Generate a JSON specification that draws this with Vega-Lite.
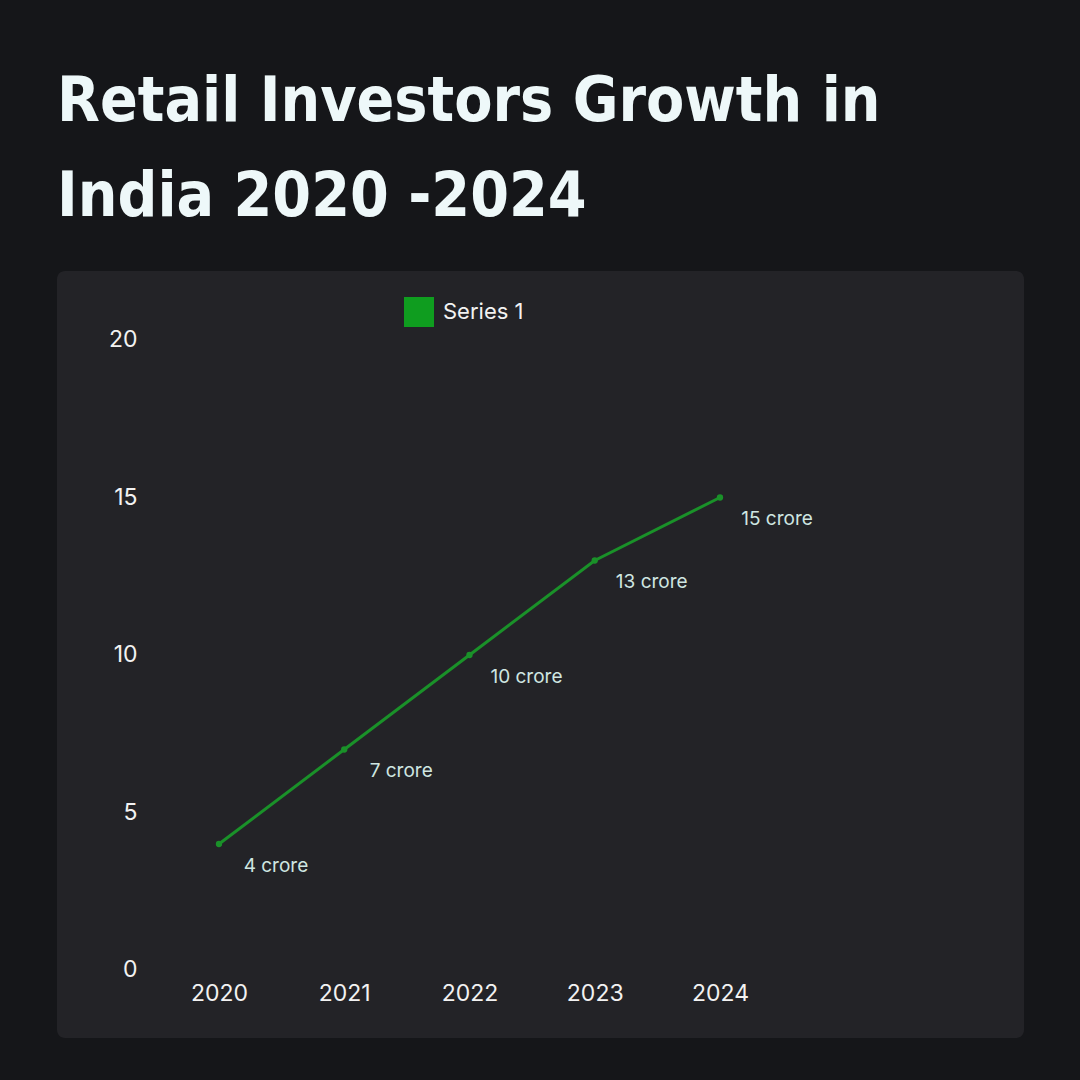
{
  "$schema": "https://vega.github.io/schema/vega-lite/v6.json",
  "width": 967,
  "height": 767,
  "autosize": {"type": "none"},
  "padding": {"left": 57, "top": 271, "right": 56, "bottom": 42},
  "background": "#151619",
  "title": {
    "text": ["Retail Investors Growth in", "India 2020 -2024"],
    "anchor": "start",
    "frame": "group",
    "font": "DejaVu Sans Condensed, DejaVu Sans, sans-serif",
    "fontWeight": "bold",
    "fontSize": 62,
    "lineHeight": 95,
    "color": "#eef8f9",
    "offset": 42
  },
  "config": {
    "view": {"fill": "#232327", "stroke": null, "cornerRadius": 8},
    "font": "Inter"
  },
  "data": {
    "values": [
      {"year": 2020, "value": 4, "label": "4 crore", "series": "Series 1"},
      {"year": 2021, "value": 7, "label": "7 crore", "series": "Series 1"},
      {"year": 2022, "value": 10, "label": "10 crore", "series": "Series 1"},
      {"year": 2023, "value": 13, "label": "13 crore", "series": "Series 1"},
      {"year": 2024, "value": 15, "label": "15 crore", "series": "Series 1"}
    ]
  },
  "encoding": {
    "x": {
      "field": "year",
      "type": "quantitative",
      "scale": {"domain": [2018.707, 2026.427], "nice": false, "zero": false},
      "axis": {
        "title": null,
        "values": [2020, 2021, 2022, 2023, 2024],
        "format": "d",
        "grid": false,
        "domain": false,
        "ticks": false,
        "tickSize": 0,
        "labelPadding": 0,
        "offset": -56,
        "labelFont": "Inter",
        "labelFontSize": 23,
        "labelColor": "#f2f2f2",
        "labelFlush": false
      }
    },
    "y": {
      "field": "value",
      "type": "quantitative",
      "scale": {"domain": [-2.159, 22.19], "nice": false, "zero": false},
      "axis": {
        "title": null,
        "values": [0, 5, 10, 15, 20],
        "grid": false,
        "domain": false,
        "ticks": false,
        "tickSize": 0,
        "labelPadding": 0,
        "offset": -80,
        "labelFont": "Inter",
        "labelFontSize": 23,
        "labelColor": "#f2f2f2",
        "labelFlush": false
      }
    }
  },
  "layer": [
    {
      "mark": {"type": "line", "strokeWidth": 3},
      "encoding": {
        "color": {
          "field": "series",
          "type": "nominal",
          "scale": {"range": ["#1a9129"]},
          "legend": {
            "title": null,
            "orient": "none",
            "legendX": 347,
            "legendY": 26,
            "symbolType": "square",
            "symbolSize": 900,
            "symbolFillColor": "#0f9d1f",
            "symbolStrokeColor": "#0f9d1f",
            "symbolStrokeWidth": 0,
            "labelFont": "Inter",
            "labelFontSize": 22,
            "labelColor": "#f2f2f2",
            "labelOffset": 9
          }
        }
      }
    },
    {
      "mark": {"type": "point", "filled": true, "size": 40, "opacity": 1, "color": "#1a9129"}
    },
    {
      "mark": {"type": "text", "align": "center", "baseline": "middle", "dx": 57, "dy": 22, "fontSize": 19, "font": "Inter", "color": "#cfe6e1"},
      "encoding": {"text": {"field": "label"}}
    }
  ]
}
